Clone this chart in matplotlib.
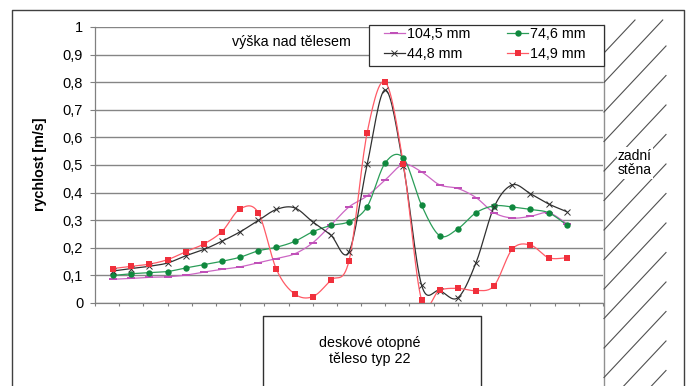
import numpy as np
import matplotlib
matplotlib.use('Agg')
import matplotlib.pyplot as plt
from matplotlib.patches import Rectangle
from matplotlib.path import Path

plt.rcParams['font.family'] = ['Liberation Sans', 'DejaVu Sans']

# measuring positions along the panel [mm]
positions = [30, 60, 90, 120, 150, 180, 210, 240, 270, 300, 330, 360, 390,
             420, 450, 480, 510, 540, 570, 600, 630, 660, 690, 720, 750, 780]

# air velocity [m/s] for each height above the radiator
v_104_5 = [0.086, 0.089, 0.093, 0.095, 0.101, 0.112, 0.122, 0.131, 0.146, 0.161,
           0.178, 0.218, 0.282, 0.348, 0.388, 0.446, 0.502, 0.475, 0.428, 0.415,
           0.382, 0.327, 0.308, 0.314, 0.327, 0.287]
v_74_6 = [0.100, 0.106, 0.110, 0.114, 0.127, 0.139, 0.151, 0.166, 0.189, 0.202,
          0.223, 0.258, 0.281, 0.295, 0.349, 0.508, 0.525, 0.354, 0.244, 0.269,
          0.327, 0.352, 0.348, 0.339, 0.327, 0.283]
v_44_8 = [0.116, 0.125, 0.133, 0.145, 0.171, 0.194, 0.224, 0.258, 0.299, 0.339,
          0.345, 0.294, 0.246, 0.186, 0.502, 0.772, 0.495, 0.065, 0.045, 0.019,
          0.146, 0.348, 0.428, 0.396, 0.359, 0.331]
v_14_9 = [0.125, 0.133, 0.141, 0.157, 0.186, 0.214, 0.259, 0.341, 0.327, 0.122,
          0.033, 0.023, 0.083, 0.153, 0.617, 0.800, 0.502, 0.011, 0.047, 0.053,
          0.045, 0.063, 0.195, 0.210, 0.164, 0.164]

series_labels = ['104,5 mm', '74,6 mm', '44,8 mm', '14,9 mm']

y_ticks = [0, 0.1, 0.2, 0.3, 0.4, 0.5, 0.6, 0.7, 0.8, 0.9, 1.0]
y_tick_labels = ['0', '0,1', '0,2', '0,3', '0,4', '0,5', '0,6', '0,7', '0,8', '0,9', '1']


def smooth(x, y, steps=16):
    """Bezier smoothing through the points (same style as Excel smoothed lines)."""
    pts = np.column_stack([x, y]).astype(float)
    ext = np.vstack([pts[0], pts, pts[-1]])
    out = []
    t = np.linspace(0, 1, steps, endpoint=False)[:, None]
    for i in range(len(pts) - 1):
        p0, p1, p2, p3 = ext[i], ext[i + 1], ext[i + 2], ext[i + 3]
        c1 = p1 + (p2 - p0) / 6
        c2 = p2 - (p3 - p1) / 6
        seg = (1 - t) ** 3 * p1 + 3 * (1 - t) ** 2 * t * c1 + 3 * (1 - t) * t ** 2 * c2 + t ** 3 * p2
        out.append(seg)
    out.append(pts[-1:])
    s = np.vstack(out)
    return s[:, 0], s[:, 1]


W, H = 690, 386
fig = plt.figure(figsize=(W / 100, H / 100), dpi=100)

# overlay in pixel coordinates for the sketch around the chart
deco = fig.add_axes([0, 0, 1, 1], zorder=0)
deco.set_xlim(0, W)
deco.set_ylim(H, 0)
deco.axis('off')

ax = fig.add_axes([95 / W, (H - 303) / H, 508 / W, 276 / H], zorder=1)
ax.set_facecolor('none')

dash_marker = Path([(-1, -0.35), (1, -0.35), (1, 0.35), (-1, 0.35), (-1, -0.35)],
                   [Path.MOVETO, Path.LINETO, Path.LINETO, Path.LINETO, Path.CLOSEPOLY])

styles = [
    dict(data=v_104_5, color='#cc66c4', mfc='#c050b8', marker=dash_marker, ms=6, mew=0),
    dict(data=v_74_6, color='#2a9d58', mfc='#10883e', marker='o', ms=4.6, mew=0),
    dict(data=v_44_8, color='#303030', mfc='none', marker='x', ms=4.2, mew=0.7),
    dict(data=v_14_9, color='#ff5a66', mfc='#f0303c', marker='s', ms=5.0, mew=0),
]

handles = []
for st, label in zip(styles, series_labels):
    sx, sy = smooth(positions, st['data'])
    ax.plot(sx, sy, color=st['color'], lw=0.9, zorder=2)
    mec = st['color'] if st['marker'] == 'x' else st['mfc']
    ax.plot(positions, st['data'], ls='none', marker=st['marker'], ms=st['ms'],
            mfc=st['mfc'], mec=mec, mew=st['mew'], zorder=3)
    h, = ax.plot([], [], color=st['color'], lw=0.9, marker=st['marker'], ms=st['ms'],
                 mfc=st['mfc'], mec=mec, mew=st['mew'], label=label)
    handles.append(h)

ax.set_xlim(0, 840)
ax.set_ylim(0, 1)
ax.set_xticks(np.arange(0, 841, 40))
ax.set_xticklabels([])
ax.set_yticks(y_ticks)
ax.set_yticklabels(y_tick_labels, fontsize=10.5)
ax.tick_params(axis='y', length=3.5, width=0.8, color='#808080', pad=5)
ax.tick_params(axis='x', length=2.5, width=0.8, color='#808080')
ax.grid(axis='y', color='#858585', lw=1.0)
ax.set_axisbelow(True)
for side in ['top', 'right']:
    ax.spines[side].set_visible(False)
for side in ['left', 'bottom']:
    ax.spines[side].set_color('#808080')
    ax.spines[side].set_linewidth(0.9)

# legend box drawn by hand, entries placed inside it
ax.add_patch(Rectangle((369 / W, 1 - 66 / H), 235 / W, 41 / H, transform=fig.transFigure,
                       facecolor='white', edgecolor='#303030', lw=0.9,
                       clip_on=False, zorder=4))
order = [handles[0], handles[2], handles[1], handles[3]]
ax.legend(order, [h.get_label() for h in order], ncol=2, frameon=False,
          loc='upper left', bbox_to_anchor=(384 / W, 1 - 27 / H),
          bbox_transform=fig.transFigure, borderpad=0, borderaxespad=0,
          fontsize=10.3, handlelength=1.45, handletextpad=0.15,
          columnspacing=2.6, labelspacing=0.4).set_zorder(5)

# outer frame
deco.plot([12, 12, 684, 684], [H + 5, 10, 10, H + 5], color='#404040', lw=1.0)

# back wall with hatching
deco.plot([604, 604], [25, H + 5], color='#909090', lw=1.0)
for y0 in np.arange(53, 460, 29.5):
    x_a, y_a, x_b, y_b = 604, y0, 666, y0 - 66
    if y_b < 20:
        x_b = x_a + (x_b - x_a) * (y_a - 20) / (y_a - y_b)
        y_b = 20
    deco.plot([x_a, x_b], [y_a, y_b], color='#505050', lw=0.8)
deco.text(618, 163, 'zadní\nstěna', fontsize=10, ha='left', va='center',
          linespacing=1.05, bbox=dict(facecolor='white', edgecolor='none', pad=1))

# radiator below the chart
deco.plot([263, 263, 481, 481], [H + 5, 316, 316, H + 5], color='#303030', lw=1.0)
deco.text(370, 351, 'deskové otopné\ntěleso typ 22', fontsize=10.3, ha='center',
          va='center', linespacing=1.2)

deco.text(291, 42, 'výška nad tělesem', fontsize=10.3, ha='center', va='center')
deco.text(40, 164, 'rychlost [m/s]', fontsize=10.3, fontweight='bold', rotation=90,
          ha='center', va='center')

fig.savefig('out.png', dpi=100)
